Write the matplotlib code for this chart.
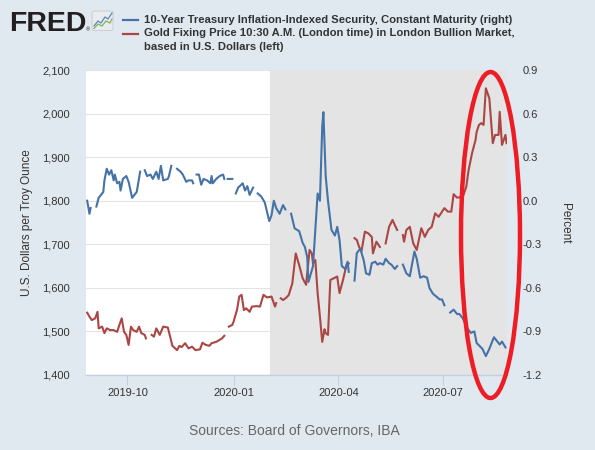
import numpy as np
import pandas as pd
import matplotlib
matplotlib.use("Agg")
import matplotlib.pyplot as plt
import matplotlib.dates as mdates
from matplotlib.patches import Ellipse, FancyBboxPatch
from matplotlib.lines import Line2D
from matplotlib.ticker import FuncFormatter

plt.rcParams["font.family"] = ["Liberation Sans", "DejaVu Sans"]
plt.rcParams["axes.unicode_minus"] = False

nan = np.nan

# 10-Year TIPS, constant maturity (percent, right axis)
tips_dates = [
    "2019-08-27", "2019-08-29", "2019-08-30", "2019-09-02", "2019-09-04", "2019-09-06",
    "2019-09-10", "2019-09-11", "2019-09-13", "2019-09-15", "2019-09-17", "2019-09-19",
    "2019-09-20", "2019-09-22", "2019-09-24", "2019-09-25", "2019-09-27", "2019-09-30",
    "2019-10-02", "2019-10-05", "2019-10-09", "2019-10-12", "2019-10-14", "2019-10-16",
    "2019-10-18", "2019-10-21", "2019-10-23", "2019-10-26", "2019-10-28", "2019-10-30",
    "2019-11-01", "2019-11-05", "2019-11-06", "2019-11-08", "2019-11-10", "2019-11-13",
    "2019-11-16", "2019-11-18", "2019-11-21", "2019-11-23", "2019-11-26", "2019-11-27",
    "2019-11-28", "2019-11-30", "2019-12-02", "2019-12-04", "2019-12-06", "2019-12-09",
    "2019-12-12", "2019-12-13", "2019-12-14", "2019-12-17", "2019-12-20", "2019-12-23",
    "2019-12-24", "2019-12-25", "2019-12-27", "2019-12-31", "2020-01-01", "2020-01-03",
    "2020-01-05", "2020-01-09", "2020-01-11", "2020-01-13", "2020-01-15", "2020-01-18",
    "2020-01-20", "2020-01-22", "2020-01-25", "2020-01-28", "2020-01-29", "2020-02-01",
    "2020-02-03", "2020-02-05", "2020-02-07", "2020-02-10", "2020-02-13", "2020-02-15",
    "2020-02-17", "2020-02-20", "2020-02-23", "2020-02-27", "2020-03-01", "2020-03-03",
    "2020-03-05", "2020-03-06", "2020-03-10", "2020-03-12", "2020-03-14", "2020-03-16",
    "2020-03-18", "2020-03-19", "2020-03-21", "2020-03-23", "2020-03-26", "2020-03-29",
    "2020-03-31", "2020-04-02", "2020-04-04", "2020-04-07", "2020-04-09", "2020-04-10",
    "2020-04-12", "2020-04-15", "2020-04-17", "2020-04-20", "2020-04-23", "2020-04-25",
    "2020-04-28", "2020-04-30", "2020-05-03", "2020-05-05", "2020-05-07", "2020-05-10",
    "2020-05-12", "2020-05-15", "2020-05-17", "2020-05-20", "2020-05-22", "2020-05-24",
    "2020-05-27", "2020-05-30", "2020-06-02", "2020-06-06", "2020-06-08", "2020-06-11",
    "2020-06-14", "2020-06-17", "2020-06-19", "2020-06-22", "2020-06-25", "2020-06-28",
    "2020-06-30", "2020-07-02", "2020-07-03", "2020-07-07", "2020-07-10", "2020-07-13",
    "2020-07-15", "2020-07-18", "2020-07-22", "2020-07-25", "2020-07-28", "2020-07-30",
    "2020-08-04", "2020-08-07", "2020-08-10", "2020-08-14", "2020-08-17", "2020-08-19",
    "2020-08-21", "2020-08-24",
]
tips_values = [
    0.00, -0.09, -0.05, nan, -0.04, 0.02,
    0.06, 0.14, 0.22, 0.18, 0.21, 0.14,
    0.18, 0.12, 0.13, 0.07, 0.15, 0.17,
    0.13, 0.02, 0.06, 0.20, nan, 0.21,
    0.17, 0.18, 0.15, 0.20, 0.15, 0.24,
    0.14, 0.15, 0.17, 0.24, nan, 0.22,
    0.20, 0.18, 0.13, 0.14, 0.14, 0.12,
    nan, 0.18, 0.18, 0.11, 0.15, 0.14,
    0.12, 0.17, 0.12, 0.15, 0.17, 0.18,
    0.15, nan, 0.15, 0.15, nan, 0.05,
    0.09, 0.12, 0.07, 0.10, 0.04, 0.09,
    nan, 0.05, 0.03, -0.01, -0.04, -0.14,
    -0.10, 0.00, -0.05, -0.09, -0.03, -0.06,
    nan, -0.09, -0.19, -0.21, -0.29, -0.32,
    -0.39, -0.56, -0.45, -0.20, 0.05, 0.00,
    0.51, 0.61, 0.17, 0.00, -0.20, -0.24,
    -0.18, -0.27, -0.45, -0.47, -0.42, -0.49,
    nan, -0.55, -0.36, -0.33, -0.41, -0.50,
    -0.51, -0.43, -0.42, -0.44, -0.43, -0.44,
    -0.40, -0.43, -0.44, -0.47, -0.45, nan,
    -0.44, -0.50, -0.52, -0.35, -0.40, -0.53,
    -0.52, -0.53, -0.60, -0.64, -0.66, -0.68,
    -0.68, -0.72, nan, -0.77, -0.75, -0.78,
    -0.78, -0.81, -0.88, -0.91, -0.90, -0.98,
    -1.02, -1.07, -1.02, -0.94, -0.97, -0.99,
    -0.97, -1.01,
]

# Gold fixing price 10:30 A.M. London (USD, left axis)
gold_dates = [
    "2019-08-27", "2019-08-29", "2019-08-31", "2019-09-03", "2019-09-05", "2019-09-06",
    "2019-09-09", "2019-09-11", "2019-09-13", "2019-09-16", "2019-09-19", "2019-09-22",
    "2019-09-24", "2019-09-26", "2019-09-28", "2019-09-30", "2019-10-02", "2019-10-04",
    "2019-10-06", "2019-10-09", "2019-10-11", "2019-10-13", "2019-10-16", "2019-10-17",
    "2019-10-19", "2019-10-22", "2019-10-24", "2019-10-26", "2019-10-29", "2019-11-01",
    "2019-11-05", "2019-11-07", "2019-11-09", "2019-11-13", "2019-11-15", "2019-11-17",
    "2019-11-20", "2019-11-23", "2019-11-26", "2019-11-29", "2019-12-03", "2019-12-05",
    "2019-12-08", "2019-12-11", "2019-12-13", "2019-12-17", "2019-12-22", "2019-12-24",
    "2019-12-26", "2019-12-28", "2019-12-31", "2020-01-01", "2020-01-04", "2020-01-06",
    "2020-01-08", "2020-01-10", "2020-01-12", "2020-01-15", "2020-01-17", "2020-01-21",
    "2020-01-24", "2020-01-27", "2020-01-30", "2020-02-03", "2020-02-06", "2020-02-07",
    "2020-02-09", "2020-02-11", "2020-02-13", "2020-02-16", "2020-02-18", "2020-02-21",
    "2020-02-24", "2020-02-27", "2020-03-01", "2020-03-04", "2020-03-07", "2020-03-09",
    "2020-03-10", "2020-03-12", "2020-03-14", "2020-03-16", "2020-03-18", "2020-03-20",
    "2020-03-21", "2020-03-23", "2020-03-25", "2020-03-28", "2020-03-31", "2020-04-02",
    "2020-04-05", "2020-04-08", "2020-04-10", "2020-04-12", "2020-04-15", "2020-04-17",
    "2020-04-19", "2020-04-21", "2020-04-24", "2020-04-27", "2020-04-30", "2020-05-01",
    "2020-05-04", "2020-05-06", "2020-05-07", "2020-05-09", "2020-05-12", "2020-05-15",
    "2020-05-18", "2020-05-20", "2020-05-22", "2020-05-24", "2020-05-27", "2020-05-28",
    "2020-05-30", "2020-06-02", "2020-06-05", "2020-06-08", "2020-06-12", "2020-06-15",
    "2020-06-18", "2020-06-21", "2020-06-24", "2020-06-27", "2020-06-30", "2020-07-02",
    "2020-07-05", "2020-07-08", "2020-07-10", "2020-07-13", "2020-07-18", "2020-07-21",
    "2020-07-23", "2020-07-26", "2020-07-29", "2020-07-30", "2020-08-01", "2020-08-03",
    "2020-08-05", "2020-08-07", "2020-08-10", "2020-08-13", "2020-08-15", "2020-08-18",
    "2020-08-19", "2020-08-21", "2020-08-24", "2020-08-25",
]
gold_values = [
    1543, 1534, 1526, 1530, 1545, 1507,
    1511, 1496, 1507, 1503, 1503, 1499,
    1515, 1530, 1499, 1492, 1469, 1511,
    1503, 1499, 1511, 1496, 1492, 1484,
    nan, 1492, 1488, 1507, 1492, 1511,
    1509, 1488, 1467, 1457, 1467, 1464,
    1473, 1461, 1465, 1457, 1459, 1474,
    1469, 1467, 1473, 1476, 1484, 1490,
    nan, 1511, 1515, 1522, 1549, 1580,
    1584, 1549, 1553, 1545, 1557, 1558,
    1557, 1584, 1578, 1580, 1557, 1565,
    nan, 1576, 1572, 1578, 1584, 1610,
    1679, 1652, 1622, 1607, 1687, 1679,
    1656, 1664, 1588, 1534, 1476, 1505,
    1496, 1492, 1618, 1622, 1626, 1588,
    1618, 1652, 1656, nan, 1714, 1710,
    1694, 1683, 1729, 1725, 1717, 1679,
    1706, 1698, 1694, nan, 1702, 1740,
    1756, 1744, 1733, nan, 1721, 1706,
    1733, 1740, 1702, 1687, 1737, 1717,
    1733, 1740, 1771, 1763, 1775, 1783,
    1775, 1775, 1815, 1807, 1809, 1832,
    1870, 1909, 1939, 1958, 1974, 1978,
    1974, 2058, 2035, 1932, 1951, 1951,
    2004, 1928, 1951, 1932,
]

gold_ticks = [1400, 1500, 1600, 1700, 1800, 1900, 2000, 2100]
tips_ticks = [-1.2, -0.9, -0.6, -0.3, 0.0, 0.3, 0.6, 0.9]
x_range = ("2019-08-26", "2020-08-25 08:00")
recession = ("2020-02-02", "2020-08-25 08:00")

tips_label = "10-Year Treasury Inflation-Indexed Security, Constant Maturity (right)"
gold_label = ["Gold Fixing Price 10:30 A.M. (London time) in London Bullion Market,",
              "based in U.S. Dollars (left)"]

BLUE = "#4572a7"
RED = "#aa4643"
TXT = "#333333"

W, H = 595, 450


def fx(px):
    return px / W


def fy(py):
    return 1 - py / H


fig = plt.figure(figsize=(W / 100, H / 100), dpi=100, facecolor="#e1e9f0")
ax = fig.add_axes([fx(86), fy(375), (507 - 86) / W, (375 - 70) / H])
ax.set_facecolor("white")
ax2 = ax.twinx()

ax.axvspan(pd.Timestamp(recession[0]), pd.Timestamp(recession[1]),
           color="#e4e4e4", lw=0, zorder=0.8)
ax.plot(pd.to_datetime(gold_dates), gold_values, color=RED, lw=1.5, zorder=3)
ax2.plot(pd.to_datetime(tips_dates), tips_values, color=BLUE, lw=1.5, zorder=3)

ax.set_xlim(pd.Timestamp(x_range[0]), pd.Timestamp(x_range[1]))
ax.set_ylim(gold_ticks[0], gold_ticks[-1])
ax2.set_ylim(tips_ticks[0], tips_ticks[-1])
ax.set_yticks(gold_ticks)
ax2.set_yticks(tips_ticks)
ax.yaxis.set_major_formatter(FuncFormatter(lambda v, _: f"{v:,.0f}"))
ax2.yaxis.set_major_formatter(FuncFormatter(lambda v, _: f"{v:.1f}".replace("-0.0", "0.0")))
ax.xaxis.set_major_locator(mdates.MonthLocator(bymonth=[1, 4, 7, 10]))
ax.xaxis.set_major_formatter(mdates.DateFormatter("%Y-%m"))

ax.set_axisbelow(True)
ax.yaxis.grid(True, color="#e3e3e3", lw=0.8)
ax.xaxis.grid(False)

for a in (ax, ax2):
    for s in a.spines.values():
        s.set_visible(False)
ax.spines["bottom"].set_visible(True)
ax.spines["bottom"].set_color("#c0d0e0")
ax.spines["bottom"].set_linewidth(1)

ax.tick_params(axis="x", length=7.5, width=0.8, color="#c0d0e0", pad=2,
               labelsize=8, labelcolor=TXT)
ax.tick_params(axis="y", length=0, pad=11.5, labelsize=8, labelcolor=TXT)
ax2.tick_params(axis="y", length=0, pad=11.5, labelsize=8, labelcolor=TXT)

fig.text(fx(27), fy(223), "U.S. Dollars per Troy Ounce", rotation=90,
         ha="center", va="center", fontsize=8.5, color=TXT)
fig.text(fx(565), fy(223), "Percent", rotation=270,
         ha="center", va="center", fontsize=8.5, color=TXT)
fig.text(fx(294), fy(431), "Sources: Board of Governors, IBA",
         ha="center", va="center", fontsize=10, color="#666666")

# header: FRED logo and legend
fig.text(fx(9), fy(30.7), "FRED", fontsize=20.5, fontweight="bold",
         color="#231f20", va="baseline", ha="left")
fig.text(fx(86), fy(31), "\u00ae", fontsize=4, color="#231f20", va="baseline")
fig.add_artist(FancyBboxPatch((fx(92), fy(30.5)), 21 / W, 19.5 / H,
                              boxstyle="round,pad=0,rounding_size=0.004",
                              transform=fig.transFigure, fc="#e9ecef",
                              ec="#c5c9ce", lw=0.6))
fig.add_artist(Line2D([fx(p) for p in (94, 98, 101, 105, 108, 112)],
                      [fy(p) for p in (26, 21, 23, 17, 19, 13)],
                      color="#5a86c2", lw=0.9))
fig.add_artist(Line2D([fx(p) for p in (94, 98, 102, 106, 110, 112)],
                      [fy(p) for p in (28.5, 24, 26, 21, 23, 19)],
                      color="#7db55a", lw=0.9))

fig.add_artist(Line2D([fx(123), fx(138)], [fy(20), fy(20)], color=BLUE, lw=1.6))
fig.add_artist(Line2D([fx(123), fx(138)], [fy(33.5), fy(33.5)], color=RED, lw=1.6))
fig.text(fx(144), fy(20), tips_label, fontsize=8.1, fontweight="bold",
         color=TXT, va="center", ha="left")
for row, line in zip((33.5, 47), gold_label):
    fig.text(fx(144), fy(row), line, fontsize=8.1, fontweight="bold",
             color=TXT, va="center", ha="left")

# red hand-drawn highlight around the last weeks
fig.add_artist(Ellipse((fx(490.5), fy(235)), 59 / W, 326 / H,
                       transform=fig.transFigure, fill=False,
                       ec="#ee1c24", lw=3.2, zorder=10))

fig.savefig("out.png", dpi=100, facecolor=fig.get_facecolor())
